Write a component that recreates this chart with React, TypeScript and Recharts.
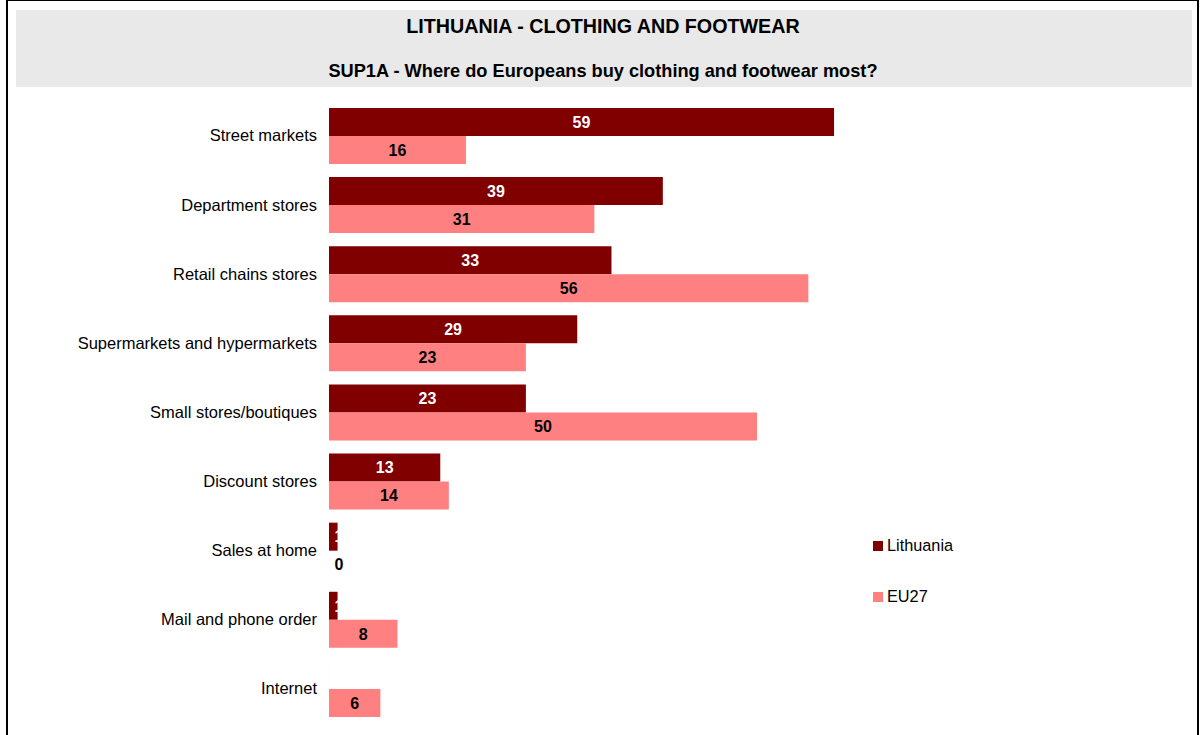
import React from "react";
import { BarChart, Bar, XAxis, YAxis, LabelList } from "recharts";

const categories = [
  "Street markets",
  "Department stores",
  "Retail chains stores",
  "Supermarkets and hypermarkets",
  "Small stores/boutiques",
  "Discount stores",
  "Sales at home",
  "Mail and phone order",
  "Internet",
];
const lithuania = [59, 39, 33, 29, 23, 13, 1, 1, 0];
const eu27 = [16, 31, 56, 23, 50, 14, 0, 8, 6];

const DARK = "#800000";
const LIGHT = "#FF8080";
const FONT = "'Liberation Sans', Arial, sans-serif";

const data = categories.map((name, i) => ({
  name,
  lithuania: lithuania[i],
  eu27: eu27[i],
}));

function makeLabel(color: string) {
  return function BarLabel(props: any) {
    const { x, y, width, height, value } = props;
    const cx = Number(x) + Math.max(Number(width) / 2, 10);
    const cy = Number(y) + Number(height) / 2;
    return (
      <text
        x={cx}
        y={cy}
        dy="0.36em"
        textAnchor="middle"
        fill={color}
        fontFamily={FONT}
        fontSize={16}
        fontWeight="bold"
      >
        {value}
      </text>
    );
  };
}

export default function App() {
  return (
    <div
      style={{
        position: "absolute",
        left: 0,
        top: 0,
        width: 1202,
        height: 735,
        background: "#fff",
        fontFamily: FONT,
        overflow: "hidden",
      }}
    >
      <div
        style={{
          position: "absolute",
          left: 6,
          top: 0,
          width: 1193,
          height: 740,
          borderTop: "1px solid #000",
          borderLeft: "2px solid #000",
          borderRight: "2px solid #000",
          boxSizing: "border-box",
        }}
      />
      <div
        style={{
          position: "absolute",
          left: 16,
          top: 10,
          width: 1176,
          height: 77,
          background: "#e9e9e9",
        }}
      />
      <div
        style={{
          position: "absolute",
          left: 0,
          width: 1206,
          top: 15,
          textAlign: "center",
          fontSize: 19.7,
          fontWeight: "bold",
          color: "#000",
        }}
      >
        LITHUANIA - CLOTHING AND FOOTWEAR
      </div>
      <div
        style={{
          position: "absolute",
          left: 0,
          width: 1206,
          top: 61,
          textAlign: "center",
          fontSize: 18.2,
          fontWeight: "bold",
          color: "#000",
        }}
      >
        SUP1A - Where do Europeans buy clothing and footwear most?
      </div>

      <div style={{ position: "absolute", left: 0, top: 0 }}>
        <BarChart
          width={1202}
          height={735}
          data={data}
          layout="vertical"
          margin={{ top: 101, right: 17, bottom: 12, left: 0 }}
          barCategoryGap={7}
          barGap={0}
        >
          <XAxis type="number" domain={[0, 100]} hide />
          <YAxis
            type="category"
            dataKey="name"
            width={329}
            axisLine={false}
            tickLine={false}
            tickSize={0}
            tickMargin={12}
            interval={0}
            tick={{ fill: "#000", fontSize: 16.5, fontFamily: FONT }}
          />
          <Bar
            dataKey="lithuania"
            fill={DARK}
            minPointSize={0.01}
            isAnimationActive={false}
          >
            <LabelList dataKey="lithuania" content={makeLabel("#fff")} />
          </Bar>
          <Bar
            dataKey="eu27"
            fill={LIGHT}
            minPointSize={0.01}
            isAnimationActive={false}
          >
            <LabelList dataKey="eu27" content={makeLabel("#000")} />
          </Bar>
        </BarChart>
      </div>

      {[
        { label: "Lithuania", color: DARK, top: 540 },
        { label: "EU27", color: LIGHT, top: 591 },
      ].map((item) => (
        <div
          key={item.label}
          style={{
            position: "absolute",
            left: 873,
            top: item.top - 4,
            display: "flex",
            alignItems: "center",
            fontSize: 16.3,
            color: "#000",
          }}
        >
          <span
            style={{
              width: 10,
              height: 10,
              background: item.color,
              marginRight: 4,
              display: "inline-block",
            }}
          />
          {item.label}
        </div>
      ))}
    </div>
  );
}
